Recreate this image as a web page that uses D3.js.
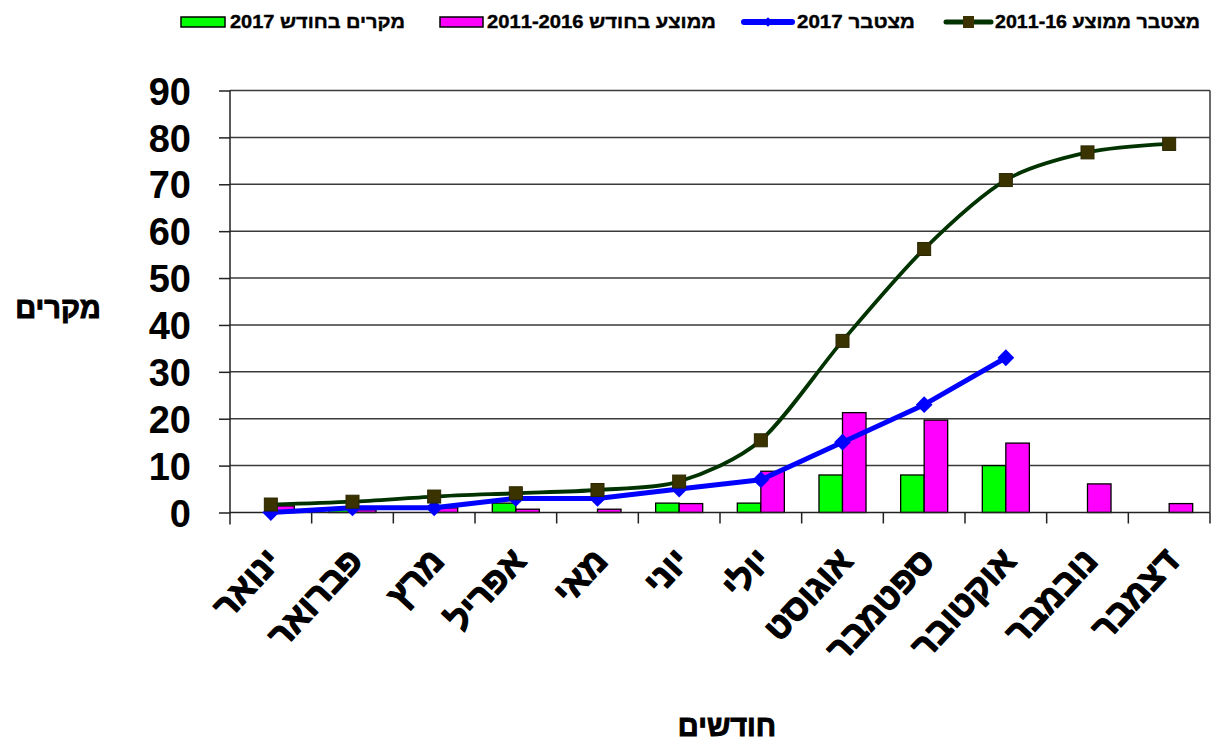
<!DOCTYPE html>
<html lang="he">
<head>
<meta charset="utf-8">
<script src="https://cdn.jsdelivr.net/npm/d3@7"></script>
<style>
  html, body { margin: 0; padding: 0; background: #fff; }
  svg { display: block; }
</style>
</head>
<body>
<svg id="chart" width="1218" height="742"></svg>
<script>
// ---- data ----
const months = ["ינואר","פברואר","מרץ","אפריל","מאי","יוני","יולי","אוגוסט","ספטמבר","אוקטובר","נובמבר","דצמבר"];
const cases2017 = [0, 1, 0, 2, 0, 2, 2, 8, 8, 10, null, null];
const avgMonthly = [1.4, 0.6, 1.0, 0.7, 0.7, 1.9, 8.8, 21.3, 19.7, 14.8, 6.1, 1.9];
const cum2017 = [0, 1, 1, 3, 3, 5, 7, 15, 23, 33, null, null];
const cumAvg = [1.7, 2.3, 3.4, 4.1, 4.8, 6.6, 15.4, 36.6, 56.2, 70.9, 76.8, 78.6];
const yTicks = [0, 10, 20, 30, 40, 50, 60, 70, 80, 90];
const legendLabels = ["מקרים בחודש 2017", "ממוצע בחודש 2011-2016", "מצטבר 2017", "מצטבר ממוצע 2011-16"];
const yTitle = "מקרים";
const xTitle = "חודשים";

// ---- layout ----
const svg = d3.select("#chart");
const pLeft = 230, pRight = 1210, pTop = 90.5, pBottom = 512.5;
const font = "'Liberation Sans', Arial, sans-serif";
const narrow = "'Liberation Sans Narrow', 'Arial Narrow', 'Liberation Sans', sans-serif";

const x = d3.scaleBand().domain(months).range([pLeft, pRight]).paddingInner(0).paddingOuter(0);
const y = d3.scaleLinear().domain([0, 90]).range([pBottom, pTop]);
const bw = x.bandwidth() * 0.288;

// gridlines
svg.append("g").selectAll("line").data(yTicks.filter(d => d > 0)).join("line")
  .attr("x1", pLeft).attr("x2", pRight)
  .attr("y1", d => y(d)).attr("y2", d => y(d))
  .attr("stroke", "#3a3a3a").attr("stroke-width", 1.5);
svg.append("line").attr("x1", pRight).attr("x2", pRight).attr("y1", pTop).attr("y2", pBottom)
  .attr("stroke", "#3a3a3a").attr("stroke-width", 1.5);

// bars
const bars = svg.append("g");
bars.selectAll("rect.g").data(months.map((m, i) => ({m, v: cases2017[i]})).filter(d => d.v)).join("rect")
  .attr("x", d => x(d.m) + x.bandwidth() / 2 - bw)
  .attr("y", d => y(d.v)).attr("width", bw).attr("height", d => y(0) - y(d.v))
  .attr("fill", "#00ff00").attr("stroke", "#000").attr("stroke-width", 1.3);
bars.selectAll("rect.m").data(months.map((m, i) => ({m, v: avgMonthly[i]}))).join("rect")
  .attr("x", d => x(d.m) + x.bandwidth() / 2)
  .attr("y", d => y(d.v)).attr("width", bw).attr("height", d => y(0) - y(d.v))
  .attr("fill", "#ff00ff").attr("stroke", "#000").attr("stroke-width", 1.3);

// axes
const yAxis = d3.axisLeft(y).tickValues(yTicks).tickSize(11).tickFormat(d3.format("d"));
const gy = svg.append("g").attr("transform", `translate(${pLeft},0)`).call(yAxis);
gy.select(".domain").remove();
gy.selectAll(".tick line").attr("stroke", "#222").attr("stroke-width", 1.5);
gy.selectAll(".tick text").attr("x", -39).attr("dy", "0.36em")
  .attr("font-family", font).attr("font-weight", "bold").attr("font-size", 38).attr("fill", "#000");
svg.append("line").attr("x1", pLeft).attr("x2", pLeft).attr("y1", pTop).attr("y2", pBottom + 12)
  .attr("stroke", "#222").attr("stroke-width", 1.5);

const tickPos = months.map(m => x(m) + x.bandwidth());
svg.append("line").attr("x1", pLeft).attr("x2", pRight).attr("y1", pBottom).attr("y2", pBottom)
  .attr("stroke", "#222").attr("stroke-width", 1.5);
svg.append("g").selectAll("line").data(tickPos).join("line")
  .attr("x1", d => d).attr("x2", d => d).attr("y1", pBottom).attr("y2", pBottom + 11)
  .attr("stroke", "#222").attr("stroke-width", 1.5);

// x labels
svg.append("g").selectAll("text").data(months).join("text")
  .attr("transform", d => `translate(${x(d) + x.bandwidth() / 2 + 12},${pBottom + 50}) rotate(-47)`)
  .attr("text-anchor", "end")
  .attr("font-family", font).attr("font-weight", "bold").attr("font-size", 35).attr("fill", "#000")
  .attr("stroke", "#000").attr("stroke-width", 1.3).attr("stroke-linejoin", "round")
  .text(d => d);

// lines
const cx = d => x(d.m) + x.bandwidth() / 2;
const blueLine = d3.line().x(cx).y(d => y(d.v));
const greenLine = d3.line().x(cx).y(d => y(d.v)).curve(d3.curveCardinal.tension(0.15));
const blueData = months.map((m, i) => ({m, v: cum2017[i]})).filter(d => d.v != null);
const greenData = months.map((m, i) => ({m, v: cumAvg[i]}));

svg.append("path").datum(blueData).attr("d", blueLine)
  .attr("fill", "none").attr("stroke", "#0000ff").attr("stroke-width", 5).attr("stroke-linejoin", "round");
svg.append("g").selectAll("path").data(blueData).join("path")
  .attr("d", d3.symbol(d3.symbolDiamond2, 180)())
  .attr("transform", d => `translate(${cx(d)},${y(d.v)})`)
  .attr("fill", "#0000ff");

svg.append("path").datum(greenData).attr("d", greenLine)
  .attr("fill", "none").attr("stroke", "#003300").attr("stroke-width", 3.8).attr("stroke-linejoin", "round");
svg.append("g").selectAll("rect").data(greenData).join("rect")
  .attr("x", d => cx(d) - 6.5).attr("y", d => y(d.v) - 6.5)
  .attr("width", 13).attr("height", 13)
  .attr("fill", "#3a3300").attr("stroke", "#2a2600").attr("stroke-width", 1);

// axis titles
svg.append("text").attr("x", 58).attr("y", 318).attr("text-anchor", "middle")
  .attr("font-family", font).attr("font-weight", "bold").attr("font-size", 29)
  .attr("stroke", "#000").attr("stroke-width", 1).text(yTitle);
svg.append("text").attr("x", 727).attr("y", 736).attr("text-anchor", "middle")
  .attr("font-family", font).attr("font-weight", "bold").attr("font-size", 29)
  .attr("stroke", "#000").attr("stroke-width", 1).text(xTitle);

// legend
const lg = svg.append("g");
const ly = 22;
lg.append("rect").attr("x", 181).attr("y", ly - 5).attr("width", 44).attr("height", 10)
  .attr("fill", "#00ff00").attr("stroke", "#000").attr("stroke-width", 1.5);
lg.append("rect").attr("x", 440).attr("y", ly - 5).attr("width", 43).attr("height", 10)
  .attr("fill", "#ff00ff").attr("stroke", "#000").attr("stroke-width", 1.5);
lg.append("line").attr("x1", 744).attr("x2", 792).attr("y1", ly).attr("y2", ly)
  .attr("stroke", "#0000ff").attr("stroke-width", 6).attr("stroke-linecap", "round");
lg.append("path").attr("d", d3.symbol(d3.symbolDiamond2, 60)()).attr("transform", `translate(768,${ly})`).attr("fill", "#0000ff");
lg.append("line").attr("x1", 946).attr("x2", 991).attr("y1", ly).attr("y2", ly)
  .attr("stroke", "#003300").attr("stroke-width", 5).attr("stroke-linecap", "round");
lg.append("rect").attr("x", 963).attr("y", ly - 6).attr("width", 11).attr("height", 12).attr("fill", "#3a3300");

const legX = [230, 487, 797, 995];
const legW = [175, 229, 118, 205];
lg.selectAll("text").data(legendLabels).join("text")
  .attr("x", (d, i) => legX[i]).attr("y", ly + 6)
  .attr("font-family", narrow).attr("font-weight", "bold").attr("font-size", 18)
  .attr("stroke", "#000").attr("stroke-width", 0.4)
  .attr("textLength", (d, i) => legW[i]).attr("lengthAdjust", "spacingAndGlyphs")
  .text(d => d);
</script>
</body>
</html>
